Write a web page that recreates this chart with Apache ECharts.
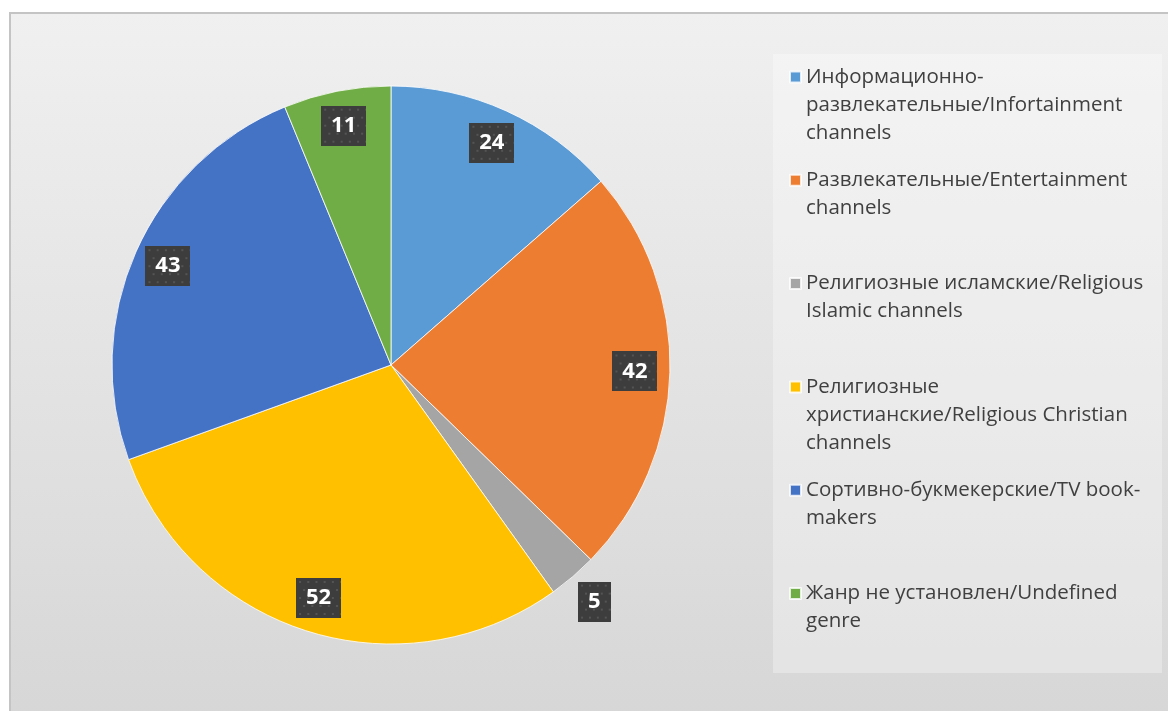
<!DOCTYPE html>
<html><head><meta charset="utf-8">
<script src="https://cdn.jsdelivr.net/npm/echarts@6/dist/echarts.min.js"></script>
<style>html,body{margin:0;padding:0;background:#fff}#c{width:1168px;height:711px}</style>
</head><body><div id="c"></div>
<script>
const categories = [
  'Информационно-развлекательные/Infortainment channels',
  'Развлекательные/Entertainment channels',
  'Религиозные исламские/Religious Islamic channels',
  'Религиозные христианские/Religious Christian channels',
  'Сортивно-букмекерские/TV book-makers',
  'Жанр не установлен/Undefined genre'
];
const legendLines = [
  ['Информационно-', 'развлекательные/Infortainment', 'channels'],
  ['Развлекательные/Entertainment', 'channels'],
  ['Религиозные исламские/Religious', 'Islamic channels'],
  ['Религиозные', 'христианские/Religious Christian', 'channels'],
  ['Сортивно-букмекерские/TV book-', 'makers'],
  ['Жанр не установлен/Undefined', 'genre']
];
const values = [24, 42, 5, 52, 43, 11];
const colors = ['#5B9BD5', '#ED7D31', '#A5A5A5', '#FFC000', '#4472C4', '#70AD47'];
const outsideLabelIdx = [2];

function makePattern(w, h) {
  const c = document.createElement('canvas');
  c.width = w; c.height = h;
  const g = c.getContext('2d');
  g.fillStyle = '#3d3d3d'; g.fillRect(0, 0, w, h);
  g.fillStyle = '#545454';
  let row = 0;
  for (let y = 3; y < h; y += 8, row++) {
    for (let x = 3 + (row % 2) * 4; x < w; x += 8) g.fillRect(x, y, 2, 2);
  }
  return c;
}
const patWide = makePattern(44, 40);
const patNarrow = makePattern(33, 40);

const baseLabel = {
  color: '#ffffff', fontFamily: 'Open Sans', fontWeight: 'bold', fontSize: 22, lineHeight: 24,
  padding: [8, 10, 8, 10],
  shadowBlur: 6, shadowColor: 'rgba(0,0,0,0.45)', shadowOffsetX: 4, shadowOffsetY: 4,
  formatter: '{c}'
};

const CX = 391, CY = 365, R = 279;

const chart = echarts.init(document.getElementById('c'), null, { renderer: 'canvas' });

const LH = 28;
const legends = categories.map((name, i) => {
  const n = legendLines[i].length;
  const yLine1 = 77 + 103.3 * i;
  return {
    data: [name],
    orient: 'vertical',
    left: 789,
    top: yLine1 - (n - 1) * LH - LH / 2,
    padding: 0,
    icon: 'rect',
    itemWidth: 11, itemHeight: 11,
    selectedMode: false,
    textStyle: { fontFamily: 'Open Sans', fontSize: 20.5, color: '#404040', lineHeight: LH },
    formatter: function () {
      return '\n'.repeat(n - 1) + legendLines[i].join('\n');
    }
  };
});

const option = {
  animation: false,
  color: colors,
  graphic: [
    {
      type: 'rect', z: -10, silent: true,
      shape: { x: 10, y: 13, width: 1200, height: 720 },
      style: {
        fill: new echarts.graphic.LinearGradient(0, 0, 0, 1, [
          { offset: 0, color: '#f0f0f0' }, { offset: 1, color: '#d6d6d6' }
        ]),
        stroke: '#c4c4c4', lineWidth: 2
      }
    },
    {
      type: 'rect', z: -9, silent: true,
      shape: { x: 773, y: 54, width: 389, height: 619 },
      style: { fill: 'rgba(255,255,255,0.3)' }
    }
  ],
  legend: legends,
  series: [
    {
      type: 'pie', center: [CX, CY], radius: [0, R], startAngle: 90, clockwise: true,
      silent: true,
      itemStyle: { borderColor: 'rgba(255,255,255,0.8)', borderWidth: 1 },
      label: { show: false }, labelLine: { show: false },
      emphasis: { disabled: true },
      data: categories.map((n, i) => ({ name: n, value: values[i] }))
    },
    {
      type: 'pie', center: [CX, CY], radius: [0, 482], startAngle: 90, clockwise: true,
      silent: true, z: 5,
      itemStyle: { color: 'rgba(0,0,0,0)' },
      labelLine: { show: false },
      emphasis: { disabled: true },
      label: Object.assign({ show: true, position: 'inside', backgroundColor: { image: patWide } }, baseLabel),
      data: categories.map((n, i) => ({
        name: n, value: values[i],
        label: { show: outsideLabelIdx.indexOf(i) < 0 }
      }))
    },
    {
      type: 'pie', center: [CX, CY], radius: [0, 618], startAngle: 90, clockwise: true,
      silent: true, z: 5,
      itemStyle: { color: 'rgba(0,0,0,0)' },
      labelLine: { show: false },
      emphasis: { disabled: true },
      label: Object.assign({ show: true, position: 'inside', backgroundColor: { image: patNarrow } }, baseLabel),
      data: categories.map((n, i) => ({
        name: n, value: values[i],
        label: { show: outsideLabelIdx.indexOf(i) >= 0 }
      }))
    }
  ]
};
chart.setOption(option);
</script>
</body></html>
